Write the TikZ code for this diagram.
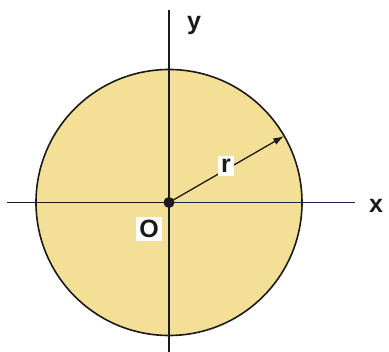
\documentclass[tikz,border=0pt]{standalone}
\usepackage{fontspec}
\setmainfont{Liberation Sans}
\usetikzlibrary{arrows.meta,calc}
\definecolor{ink}{HTML}{1A1A1A}
\definecolor{disc}{HTML}{F3E096}
\definecolor{navy}{HTML}{1E2152}

\begin{document}
\begin{tikzpicture}[x=1pt,y=1pt,font=\bfseries\fontsize{25}{27}\selectfont,text=ink,>=Latex]
  \useasboundingbox (0,0) rectangle (389,352);

  \coordinate (O) at (169,149.5);
  \fill[disc,draw=ink,line width=1.6pt] (O) circle (133);

  % axes
  \coordinate (xl) at (7,149.5);
  \coordinate (xr) at (355,149.5);
  \coordinate (yb) at (169,0);
  \coordinate (yt) at (169,342);
  \draw[ink,line width=1.6pt] (xl)--(O);
  \draw[navy,line width=1.6pt] (O)--(xr);
  \draw[ink,line width=1.6pt] (yb)--(yt);

  % radius
  \coordinate (rim) at ($(O)+(30:133)$);
  \draw[ink,line width=1.3pt,-{Latex[length=11pt,width=7pt]}] (O)--(rim);
  \fill[ink] (O) circle (5.5);

  \node[fill=white,inner sep=3pt] (rlab) at (226,186) {r};
  \node[fill=white,inner sep=3pt] (olab) at (149,123) {O};
  \node (xlab) at (376,146) {x};
  \node (ylab) at (194,327) {y};
\end{tikzpicture}
\end{document}
